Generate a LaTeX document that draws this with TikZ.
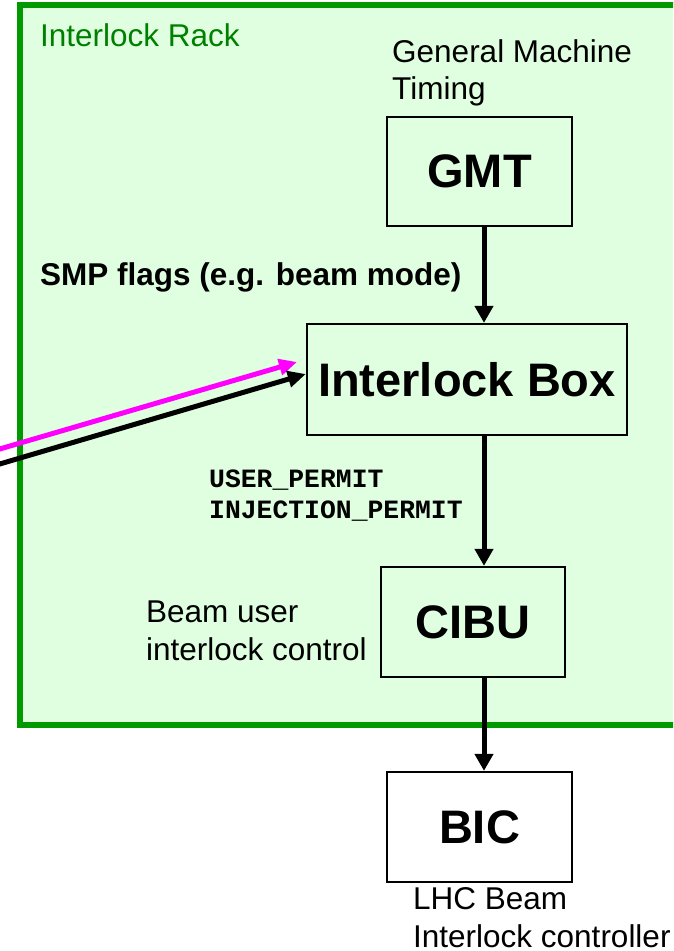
\documentclass[tikz,border=0pt]{standalone}
\usepackage{fontspec}
\setmainfont{Liberation Sans}
\newfontfamily\monofont{Liberation Mono}
\usetikzlibrary{arrows.meta}
\definecolor{rackgreen}{RGB}{0,153,0}
\definecolor{rackfill}{RGB}{224,255,224}
\definecolor{racktext}{RGB}{0,128,0}
\definecolor{pink}{RGB}{255,0,255}
\tikzset{
  blk/.style={draw=black, line width=2.3pt, fill=rackfill, inner sep=0pt,
    font=\fontsize{47}{52}\selectfont\bfseries},
  lbl/.style={inner sep=0pt, anchor=base west, align=left,
    font=\fontsize{31.5}{37.5}\selectfont},
  arr/.style={line width=5pt, -{Triangle[length=17pt,width=18pt]}},
  diag/.style={line width=5pt, -{Triangle[length=18pt,width=16pt]}},
}
\begin{document}
\begin{tikzpicture}[x=1pt,y=-1pt]
\clip (0,0) rectangle (673,951);
\fill[white] (0,0) rectangle (673,951);
% rack
\draw[rackgreen, line width=6pt, fill=rackfill] (20,5) rectangle (720,725);
\node[lbl, text=racktext] (rack) at (40,46) {Interlock Rack};
% boxes
\node[blk, minimum width=185pt, minimum height=109pt] (gmt) at (479.5,171.5) {GMT};
\node[blk, minimum width=320pt, minimum height=111pt] (ib) at (467,379.5) {Interlock Box};
\node[blk, minimum width=184pt, minimum height=110pt] (cibu) at (473,622) {CIBU};
\node[blk, fill=white, minimum width=185pt, minimum height=110pt] (bic) at (479.5,827) {BIC};
% labels (base anchor = baseline of last line)
\node[lbl] (gmtlbl) at (392,99.5) {General Machine\\Timing};
\node[lbl, font=\fontsize{31.5}{37.5}\selectfont\bfseries] (smp) at (40,285) {SMP flags (e.g. beam mode)};
\node[lbl, font=\fontsize{26.4}{31}\selectfont\monofont\bfseries] (perm) at (209,518) {USER\_PERMIT\\INJECTION\_PERMIT};
\node[lbl] (cibulbl) at (146,660) {Beam user\\interlock control};
\node[lbl] (biclbl) at (413,947) {LHC Beam\\Interlock controller};
% connectors
\coordinate (ax) at (484,0);
\draw[arr] (gmt.south -| ax) -- (ib.north -| ax);
\draw[arr] (ib.south -| ax) -- (cibu.north -| ax);
\draw[arr] (cibu.south -| ax) -- (bic.north -| ax);
\coordinate (m0) at (-2,449.5);
\coordinate (m1) at (297,362);
\coordinate (k0) at (-2,464.5);
\coordinate (k1) at (ib.west |- 0,374);
\draw[diag, pink] (m0) -- (m1);
\draw[diag, black] (k0) -- (k1);
\end{tikzpicture}
\end{document}
